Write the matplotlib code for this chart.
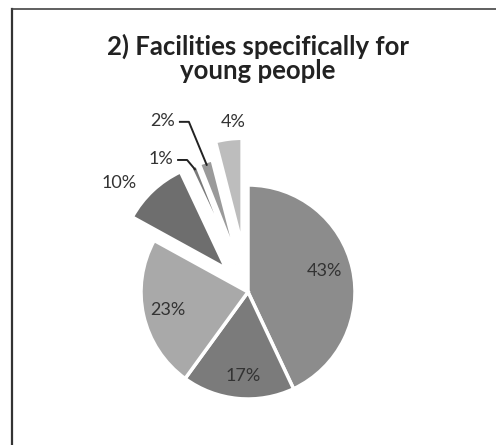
import matplotlib.pyplot as plt
import numpy as np

# share of responses, clockwise from 12 o'clock
labels = ["43%", "17%", "23%", "10%", "1%", "2%", "4%"]
shares = [43, 17, 23, 10, 1, 2, 4]
colors = ["#8c8c8c", "#7b7b7b", "#a9a9a9", "#6e6e6e", "#7a7a7a", "#9a9a9a", "#bdbdbd"]
explode = [0, 0, 0, 0.30, 0.28, 0.28, 0.44]

# label placement: (distance in radii from slice centre, angle offset in degrees)
label_pos = [(0.74, 3), (0.79, 2), (0.77, 0), (1.28, 8), (1.21, 12), (1.51, 10), (1.16, -3)]
leader = [False, False, False, False, True, True, False]

W, H = 496, 445
fig = plt.figure(figsize=(W / 100, H / 100), dpi=100)
ax = fig.add_axes([0, 0, 1, 1])

R = 107
cx, cy = 248, H - 292

wedges, _ = ax.pie(shares, colors=colors, explode=[e * R for e in explode],
                   startangle=90, counterclock=False, radius=R, center=(cx, cy),
                   wedgeprops=dict(edgecolor="white", linewidth=2.5))
ax.set_xlim(0, W)
ax.set_ylim(0, H)
ax.set_aspect("equal")
ax.axis("off")

for w, lab, (d, off), has_line in zip(wedges, labels, label_pos, leader):
    mid = np.deg2rad((w.theta1 + w.theta2) / 2)
    ang = mid + np.deg2rad(off)
    wx, wy = w.center
    tx = wx + d * R * np.cos(ang)
    ty = wy + d * R * np.sin(ang)
    ax.text(tx, ty, lab, ha="center", va="center", fontsize=13,
            family="Lato", color="#333333")
    if has_line:
        ex = wx + R * 0.97 * np.cos(mid)
        ey = wy + R * 0.97 * np.sin(mid)
        ax.plot([tx + 17, tx + 26, ex], [ty - 1, ty - 1, ey], color="#222222", lw=1.4)

fig.text(0.52, 0.868, "2) Facilities specifically for\nyoung people", ha="center",
         va="center", fontsize=18.5, fontweight="bold", family="Lato",
         color="#222222", linespacing=1.0)

# scanned page border: left and top rules only
fig.add_artist(plt.Line2D([12 / W, 12 / W], [0, 1 - 9 / H], color="#333333", lw=1.6))
fig.add_artist(plt.Line2D([12 / W, 1], [1 - 9 / H, 1 - 9 / H], color="#444444", lw=1.2))

fig.savefig("out.png", dpi=100, facecolor="white")
